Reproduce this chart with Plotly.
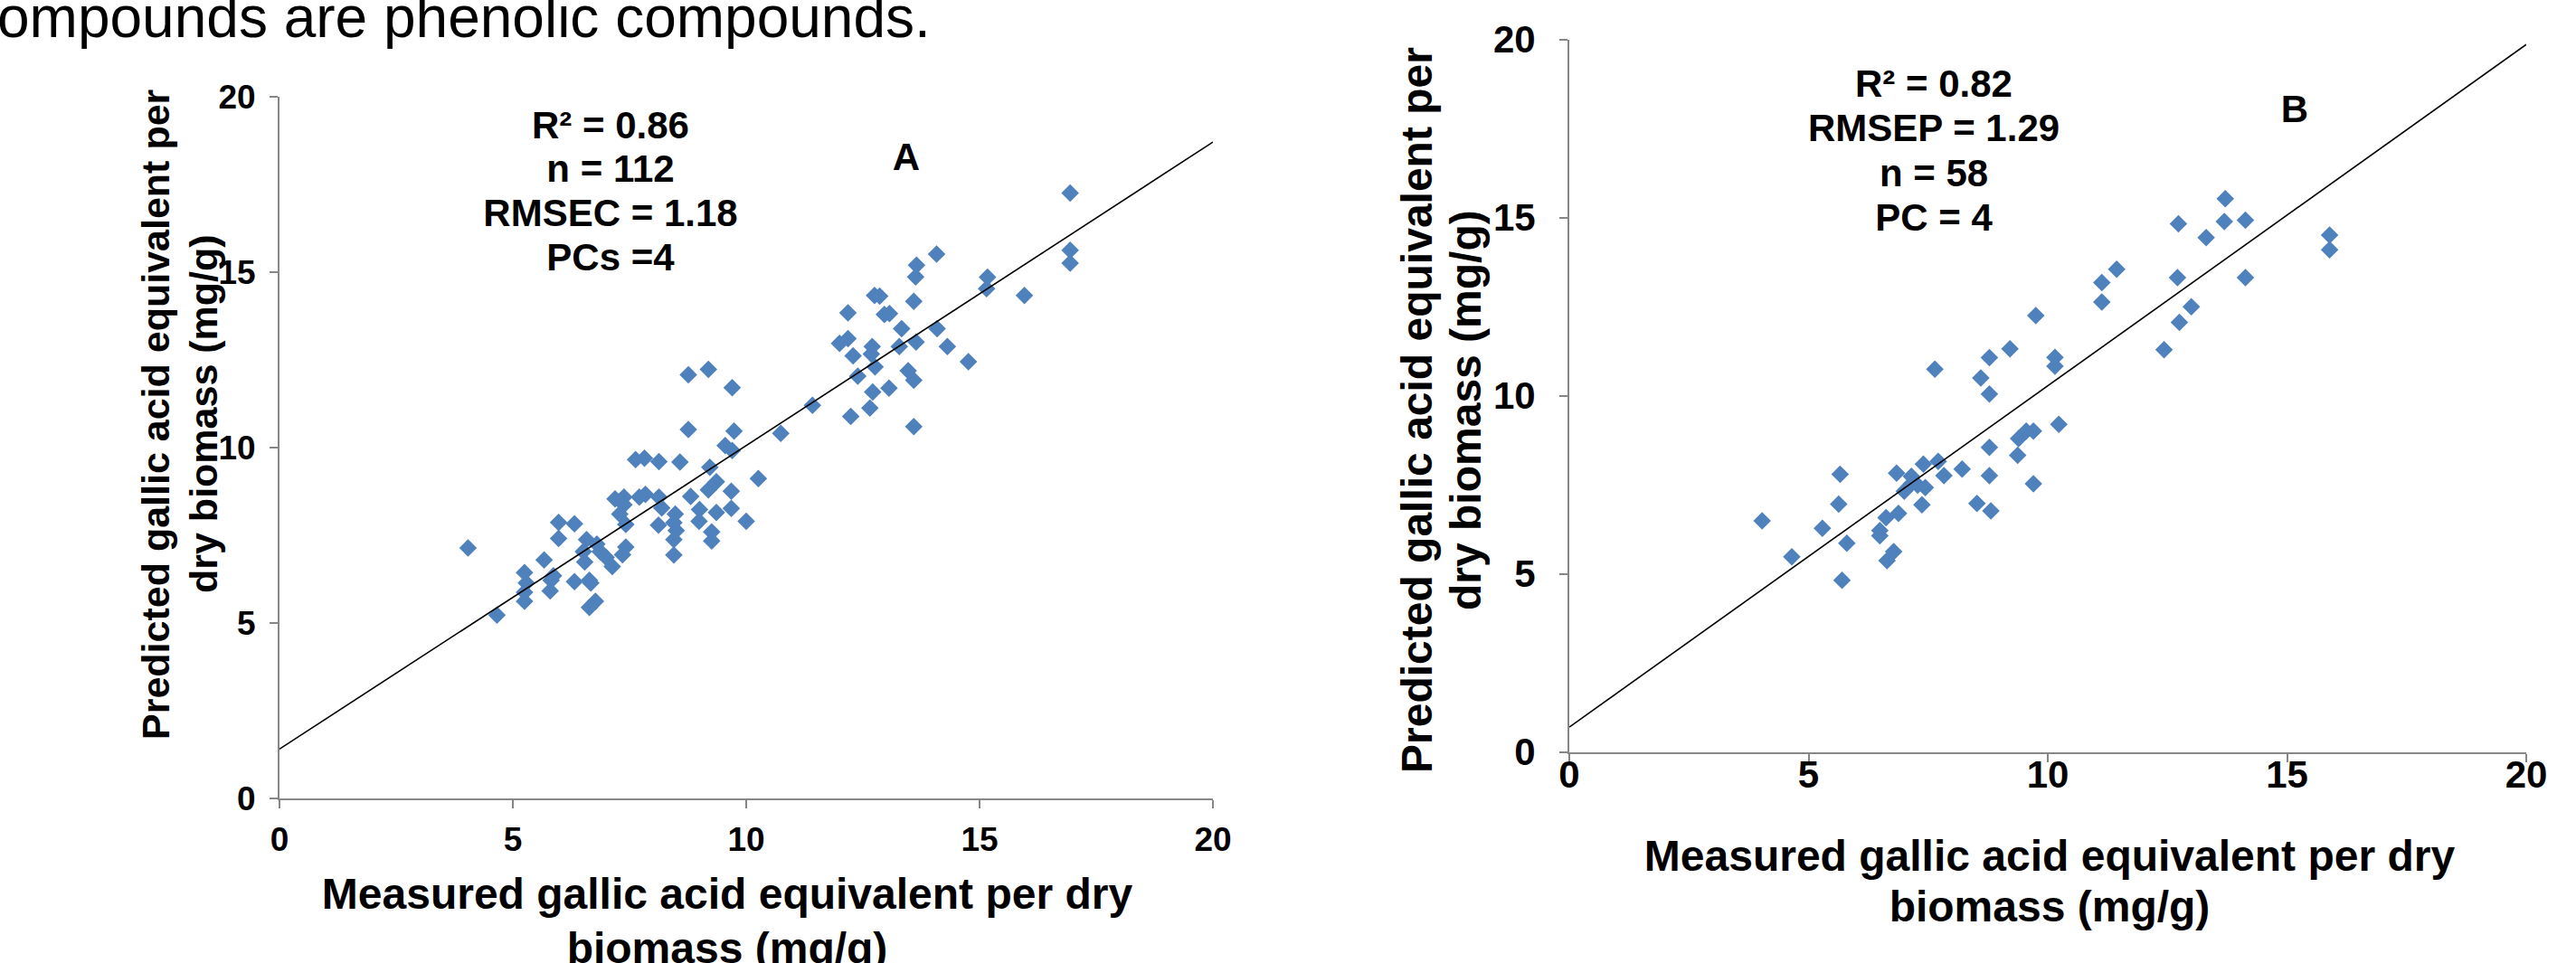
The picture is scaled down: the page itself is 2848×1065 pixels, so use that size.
import plotly.graph_objects as go

W, H = 2848, 1065

# ---------------- data ----------------
a_measured = [8.76, 9.19, 9.70,
              16.94, 14.08, 13.65, 13.63, 16.94, 16.94, 15.17, 15.15, 15.96, 12.75, 12.86, 13.59,
              12.18, 12.96, 13.07, 13.33, 14.09, 12.00, 12.18, 12.70, 13.28, 13.64, 14.31, 12.29,
              12.68, 12.39, 12.76, 13.47, 13.59, 14.76, 13.06, 12.71, 11.42, 12.65,
              10.74, 12.24, 13.59,
              8.76, 9.74, 9.55, 9.70, 7.63, 7.82, 8.13, 8.58, 9.22, 10.26, 9.36, 9.19, 9.68, 7.19,
              7.38, 7.71, 7.84, 8.13, 8.81, 8.19, 7.38, 7.29, 9.00, 9.36, 9.68, 8.48, 8.12, 7.42,
              8.99, 8.45, 10.00, 8.50, 9.26, 9.26, 8.45, 8.45, 5.98, 6.32, 5.98, 6.58, 6.80, 6.51,
              6.87, 7.42, 7.35, 7.00, 7.13, 6.54, 4.04, 5.67, 5.25, 5.29, 5.87, 5.82, 5.80, 6.32,
              6.64, 6.67, 5.25, 5.25, 6.77, 6.64, 4.66]
a_predicted = [12.07, 12.22, 11.70,
               17.25, 15.51, 15.19, 14.86, 15.62, 15.25, 14.85, 14.52, 14.33, 14.33, 14.31, 14.16,
               13.83, 13.79, 13.81, 13.38, 13.38, 12.96, 13.10, 12.87, 12.87, 13.00, 12.87, 12.61,
               12.66, 12.03, 12.29, 12.18, 11.91, 12.44, 11.69, 11.58, 11.20, 11.12,
               10.40, 10.88, 10.59,
               10.51, 10.46, 10.05, 9.91, 9.65, 9.69, 9.59, 9.58, 9.43, 9.11, 9.02, 8.79, 8.75, 8.53,
               8.58, 8.58, 8.66, 8.58, 8.60, 8.27, 8.36, 8.10, 8.23, 8.14, 8.26, 8.10, 7.78, 7.80,
               7.89, 7.85, 7.89, 7.63, 7.59, 7.33, 7.37, 6.93, 7.86, 7.82, 7.40, 7.37, 7.24, 7.03,
               7.03, 7.16, 6.94, 6.86, 6.60, 6.73, 7.13, 6.79, 6.43, 6.13, 6.34, 6.21, 5.91, 6.17,
               6.21, 6.13, 5.87, 5.61, 5.61, 5.44, 5.22]

b_measured = [9.75, 9.21, 8.78, 7.64, 8.60,
              13.71, 12.73, 13.69, 14.13, 13.31, 15.89, 15.89, 11.44, 11.13, 11.13, 12.71, 14.13,
              13.00, 12.75, 12.43, 10.15, 10.15,
              8.78, 5.66, 5.63, 4.03, 5.29, 4.65, 5.80, 5.70, 6.84, 7.15, 7.40, 7.71, 7.28, 7.44,
              7.00, 7.15, 7.83, 8.21, 7.37, 6.88, 6.62, 6.49, 6.49, 6.78, 6.64, 8.78, 8.78, 8.52,
              8.81, 9.39, 9.55, 9.70, 9.37, 9.70,
              10.23]
b_predicted = [12.25, 11.32, 11.07, 10.75, 10.50,
               15.53, 14.83, 14.89, 14.93, 14.44, 14.51, 14.10, 13.55, 13.18, 12.63, 13.32, 13.32,
               12.50, 12.06, 11.29, 11.08, 10.83,
               10.05, 7.80, 6.96, 6.49, 6.28, 5.48, 5.86, 4.82, 7.83, 7.74, 8.08, 8.16, 7.49, 7.42,
               7.32, 7.53, 7.76, 7.94, 6.94, 6.70, 6.58, 6.22, 6.07, 5.63, 5.37, 8.55, 7.76, 6.98,
               6.77, 8.80, 9.01, 9.01, 8.33, 7.53,
               9.20]

# trend lines (intercept, slope) as drawn in the chart
a_trend = (1.40, 0.865)
b_trend = (0.70, 0.958)
axis_range = [0, 20]
tick_vals = [0, 5, 10, 15, 20]
tick_text = ["0", "5", "10", "15", "20"]

a_stats = ["R² = 0.86", "n = 112", "RMSEC = 1.18", "PCs =4"]
b_stats = ["R² = 0.82", "RMSEP = 1.29", "n = 58", "PC = 4"]
x_title = ["Measured gallic acid equivalent per dry", "biomass (mg/g)"]
y_title = ["Predicted gallic acid equivalent per", "dry biomass (mg/g)"]
page_text = "ompounds are phenolic compounds."

# ---------------- figure ----------------
def fx(p):
    return p / W

def fy(p):
    return 1 - p / H

FONT = "Arial, Liberation Sans, sans-serif"
BLUE = "#4F81BD"
AXC = "#868686"

fig = go.Figure()

marker = dict(symbol="diamond", size=15, color=BLUE, line=dict(width=0))
fig.add_trace(go.Scatter(x=a_measured, y=a_predicted, mode="markers", marker=marker,
                         xaxis="x", yaxis="y", showlegend=False))
fig.add_trace(go.Scatter(x=axis_range, y=[a_trend[0] + a_trend[1] * v for v in axis_range],
                         mode="lines", line=dict(color="black", width=1.6),
                         xaxis="x", yaxis="y", showlegend=False))
fig.add_trace(go.Scatter(x=b_measured, y=b_predicted, mode="markers", marker=marker,
                         xaxis="x2", yaxis="y2", showlegend=False))
fig.add_trace(go.Scatter(x=axis_range, y=[b_trend[0] + b_trend[1] * v for v in axis_range],
                         mode="lines", line=dict(color="black", width=1.6),
                         xaxis="x2", yaxis="y2", showlegend=False))

def ax(domain, anchor, size, standoff):
    return dict(domain=domain, anchor=anchor, range=axis_range, tickvals=tick_vals,
                ticktext=tick_text, showgrid=False, zeroline=False, showline=True,
                linecolor=AXC, linewidth=2, ticks="outside", ticklen=9, tickwidth=2,
                tickcolor=AXC, ticklabelstandoff=standoff, automargin=False, fixedrange=True,
                tickfont=dict(family=FONT, size=size, color="black", weight="bold"))

fig.update_layout(
    template="none",
    width=W, height=H, margin=dict(l=0, r=0, t=0, b=0, pad=0, autoexpand=False),
    paper_bgcolor="white", plot_bgcolor="rgba(0,0,0,0)", showlegend=False,
    xaxis=ax([fx(309), fx(1341)], "y", 37, 3),
    yaxis=ax([fy(882.7), fy(106.7)], "x", 37, 8),
    xaxis2=ax([fx(1735), fx(2793)], "y2", 42, -22),
    yaxis2=ax([fy(831.7), fy(43.7)], "x2", 42, 18),
    # full-page pixel overlay used only to place (and clip) horizontal texts
    xaxis3=dict(domain=[0, 1], range=[0, W], visible=False, anchor="y3", fixedrange=True,
                automargin=False),
    yaxis3=dict(domain=[0, 1], range=[H, 0], visible=False, anchor="x3", fixedrange=True,
                automargin=False),
)

def htext(s, x, y, size, bold=True, pos="middle center"):
    fig.add_trace(go.Scatter(x=[x], y=[y], mode="text", text=[s], textposition=pos,
                             textfont=dict(family=FONT, size=size, color="black",
                                           weight="bold" if bold else "normal"),
                             xaxis="x3", yaxis="y3", showlegend=False, hoverinfo="skip",
                             cliponaxis=True))

# document text cut off at the top of the picture
htext(page_text, -3, 25, 64, bold=False, pos="middle right")

# panel A stats
for s, yy in zip(a_stats, [142, 190, 239, 288]):
    htext(s, 675, yy, 42)
htext("A", 1002, 177, 42)
# panel B stats
for s, yy in zip(b_stats, [96, 145, 195, 244]):
    htext(s, 2138, yy, 42)
htext("B", 2537, 124, 42)

# x axis titles
htext(x_title[0], 804, 993, 48)
htext(x_title[1], 804, 1053, 48)
htext(x_title[0], 2266, 951, 48)
htext(x_title[1], 2266, 1007, 48)

# rotated y axis titles
ann = []
def vtext(s, x, y, size):
    ann.append(dict(text=s, x=fx(x), y=fy(y), xref="paper", yref="paper",
                    xanchor="center", yanchor="middle", showarrow=False, textangle=-90,
                    font=dict(family=FONT, size=size, color="black", weight="bold")))

vtext(y_title[0], 172, 458, 43)
vtext(y_title[1], 225, 458, 43)
vtext(y_title[0], 1566, 454, 48)
vtext(y_title[1], 1620, 454, 48)

fig.update_layout(annotations=ann)
fig.write_html("out.html")
